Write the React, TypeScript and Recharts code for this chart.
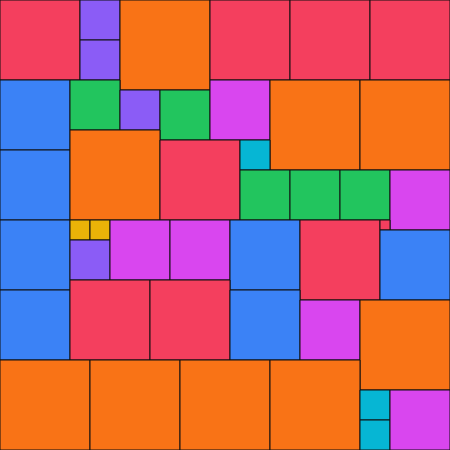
import { ComposedChart, ReferenceArea, XAxis, YAxis } from "recharts";

// square tiles, in grid units (1 unit = 1/45 of the chart side)
const tileX = [0, 8, 8, 12, 21, 29, 37, 0, 7, 12, 16, 21, 27, 36, 0, 7, 16, 24, 24, 29, 34, 39, 0, 7, 9, 7, 11, 17, 23, 30, 38, 38, 0, 7, 15, 23, 30, 36, 0, 9, 18, 27, 36, 36, 39];
const tileY = [0, 0, 4, 0, 0, 0, 0, 8, 8, 9, 9, 8, 8, 8, 15, 13, 14, 14, 17, 17, 17, 17, 22, 22, 22, 24, 22, 22, 22, 22, 22, 23, 29, 28, 28, 29, 30, 30, 36, 36, 36, 36, 39, 42, 39];
const tileSize = [8, 4, 4, 9, 8, 8, 8, 7, 5, 4, 5, 6, 9, 9, 7, 9, 8, 3, 5, 5, 5, 6, 7, 2, 2, 4, 6, 6, 7, 8, 1, 7, 7, 8, 8, 7, 6, 9, 9, 9, 9, 9, 3, 3, 6];
const tileGroup = [
  "rose", "violet", "violet", "orange", "rose", "rose", "rose",
  "blue", "green", "violet", "green", "fuchsia", "orange", "orange",
  "blue", "orange", "rose", "cyan", "green", "green", "green", "fuchsia",
  "blue", "amber", "amber", "violet", "fuchsia", "fuchsia", "blue", "rose", "rose", "blue",
  "blue", "rose", "rose", "blue", "fuchsia", "orange",
  "orange", "orange", "orange", "orange", "cyan", "cyan", "fuchsia",
];

const groupColors: Record<string, string> = {
  rose: "#f43f5e",
  violet: "#8b5cf6",
  orange: "#f97316",
  blue: "#3b82f6",
  green: "#22c55e",
  fuchsia: "#d946ef",
  cyan: "#06b6d4",
  amber: "#eab308",
};

const tiles = tileX.map((x, i) => ({
  x,
  y: tileY[i],
  size: tileSize[i],
  group: tileGroup[i],
}));

export default function App() {
  return (
    <div style={{ position: "absolute", left: 0, top: 0 }}>
      <ComposedChart width={450} height={450} data={tiles} margin={{ top: 0, right: 0, bottom: 0, left: 0 }}>
        <XAxis type="number" dataKey="x" domain={[0, 45]} hide allowDataOverflow />
        <YAxis type="number" domain={[0, 45]} reversed hide allowDataOverflow />
        {tiles.map((t, i) => (
          <ReferenceArea
            key={i}
            x1={t.x}
            x2={t.x + t.size}
            y1={t.y}
            y2={t.y + t.size}
            fill={groupColors[t.group]}
            fillOpacity={1}
            stroke="#111"
            strokeWidth={1}
            strokeOpacity={1}
            ifOverflow="visible"
          />
        ))}
      </ComposedChart>
    </div>
  );
}
